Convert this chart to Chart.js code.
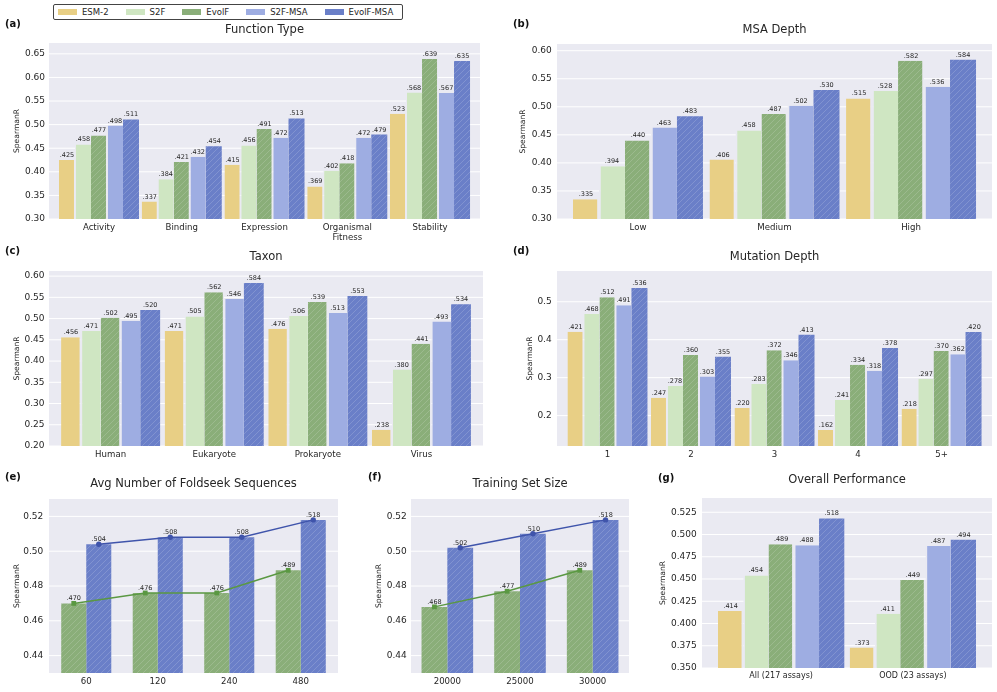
<!DOCTYPE html>
<html>
<head>
<meta charset="utf-8">
<script src="https://cdn.jsdelivr.net/npm/chart.js@4.4.1/dist/chart.umd.min.js"></script>
<style>
  html, body { margin: 0; padding: 0; background: #fff; overflow: hidden; }
  body { width: 997px; height: 692px; position: relative; font-family: "DejaVu Sans", sans-serif; }
  canvas.panel { position: absolute; left: 0; top: 0; }
  #legend {
    position: absolute; left: 53px; top: 4px; width: 350px; height: 16px; z-index: 5;
    box-sizing: border-box; border: 1px solid #444; border-radius: 2px; background: #fff;
    display: flex; align-items: center; padding-left: 4px;
    font-size: 8.5px; color: #262626; white-space: nowrap;
  }
  #legend .sw { display: inline-block; width: 19px; height: 6.5px; margin-right: 5px; }
  #legend .it { display: flex; align-items: center; margin-right: 17px; }
</style>
</head>
<body>
<div id="legend"></div>
<script>
// ---- models ----
const modelNames  = ['ESM-2', 'S2F', 'EvolF', 'S2F-MSA', 'EvolF-MSA'];
const modelColors = ['#e8cf85', '#cfe6c2', '#8aae79', '#9eade2', '#6a7fc8'];

// (a) Function Type
const funcCats      = ['Activity', 'Binding', 'Expression', ['Organismal', 'Fitness'], 'Stability'];
const funcEsm2      = [0.425, 0.337, 0.415, 0.369, 0.523];
const funcS2f       = [0.458, 0.384, 0.456, 0.402, 0.568];
const funcEvolf     = [0.477, 0.421, 0.491, 0.418, 0.639];
const funcS2fMsa    = [0.498, 0.432, 0.472, 0.472, 0.567];
const funcEvolfMsa  = [0.511, 0.454, 0.513, 0.479, 0.635];
const funcTicks     = ['0.30', '0.35', '0.40', '0.45', '0.50', '0.55', '0.60', '0.65'];

// (b) MSA Depth
const msaCats       = ['Low', 'Medium', 'High'];
const msaEsm2       = [0.335, 0.406, 0.515];
const msaS2f        = [0.394, 0.458, 0.528];
const msaEvolf      = [0.440, 0.487, 0.582];
const msaS2fMsa     = [0.463, 0.502, 0.536];
const msaEvolfMsa   = [0.483, 0.530, 0.584];
const msaTicks      = ['0.30', '0.35', '0.40', '0.45', '0.50', '0.55', '0.60'];

// (c) Taxon
const taxCats       = ['Human', 'Eukaryote', 'Prokaryote', 'Virus'];
const taxEsm2       = [0.456, 0.471, 0.476, 0.238];
const taxS2f        = [0.471, 0.505, 0.506, 0.380];
const taxEvolf      = [0.502, 0.562, 0.539, 0.441];
const taxS2fMsa     = [0.495, 0.546, 0.513, 0.493];
const taxEvolfMsa   = [0.520, 0.584, 0.553, 0.534];
const taxTicks      = ['0.20', '0.25', '0.30', '0.35', '0.40', '0.45', '0.50', '0.55', '0.60'];

// (d) Mutation Depth
const mutCats       = ['1', '2', '3', '4', '5+'];
const mutEsm2       = [0.421, 0.247, 0.220, 0.162, 0.218];
const mutS2f        = [0.468, 0.278, 0.283, 0.241, 0.297];
const mutEvolf      = [0.512, 0.360, 0.372, 0.334, 0.370];
const mutS2fMsa     = [0.491, 0.303, 0.346, 0.318, 0.362];
const mutEvolfMsa   = [0.536, 0.355, 0.413, 0.378, 0.420];
const mutTicks      = ['0.2', '0.3', '0.4', '0.5'];

// (e) Avg Number of Foldseek Sequences
const foldCats      = ['60', '120', '240', '480'];
const foldEvolf     = [0.470, 0.476, 0.476, 0.489];
const foldEvolfMsa  = [0.504, 0.508, 0.508, 0.518];

// (f) Training Set Size
const trainCats     = ['20000', '25000', '30000'];
const trainEvolf    = [0.468, 0.477, 0.489];
const trainEvolfMsa = [0.502, 0.510, 0.518];
const smallTicks    = ['0.44', '0.46', '0.48', '0.50', '0.52'];

// (g) Overall Performance
const allCats       = ['All (217 assays)', 'OOD (23 assays)'];
const allEsm2       = [0.414, 0.373];
const allS2f        = [0.454, 0.411];
const allEvolf      = [0.489, 0.449];
const allS2fMsa     = [0.488, 0.487];
const allEvolfMsa   = [0.518, 0.494];
const allTicks      = ['0.350', '0.375', '0.400', '0.425', '0.450', '0.475', '0.500', '0.525'];

// ---- style ----
const W = 997, H = 692;
const FONT = '"DejaVu Sans", sans-serif';
const INK = '#262626';
const PLOT_BG = '#eaeaf2';
const hatched = [false, false, true, false, true];
const gapSides = ['right', 'left', 'right', 'left', null];   // little gaps ESM-2 | S2F EvolF | S2F-MSA EvolF-MSA
const trendColors = { 2: '#5a9842', 4: '#3f54ab' };
const YLAB_SIZE = 7.6;

const ALL5 = [0, 1, 2, 3, 4];
const panels = [
  { tag: '(a)', title: 'Function Type', labels: funcCats, models: ALL5, ticks: funcTicks, min: 0.30, max: 0.673,
    series: [funcEsm2, funcS2f, funcEvolf, funcS2fMsa, funcEvolfMsa],
    box: { l: 57.6, r: 471.4, t: 43, b: 219, pad: 8.6 }, catPct: 0.967, gap: 1.0, yPad: 12.6, ylabX: 17, titleY: 30, tagX: 5, tagY: 24 },
  { tag: '(b)', title: 'MSA Depth', labels: msaCats, models: ALL5, ticks: msaTicks, min: 0.30, max: 0.612,
    series: [msaEsm2, msaS2f, msaEvolf, msaS2fMsa, msaEvolfMsa],
    box: { l: 569.7, r: 979.3, t: 44, b: 219, pad: 12.7 }, catPct: 0.952, gap: 1.8, yPad: 18, ylabX: 523, titleY: 30, tagX: 513, tagY: 24 },
  { tag: '(c)', title: 'Taxon', labels: taxCats, models: ALL5, ticks: taxTicks, min: 0.20, max: 0.612,
    series: [taxEsm2, taxS2f, taxEvolf, taxS2fMsa, taxEvolfMsa],
    box: { l: 58.8, r: 473.2, t: 271, b: 446, pad: 9.8 }, catPct: 0.956, gap: 1.3, yPad: 14.3, ylabX: 17, titleY: 257, tagX: 5, tagY: 251 },
  { tag: '(d)', title: 'Mutation Depth', labels: mutCats, models: ALL5, ticks: mutTicks, min: 0.12, max: 0.581,
    series: [mutEsm2, mutS2f, mutEvolf, mutS2fMsa, mutEvolfMsa],
    box: { l: 565.7, r: 983.3, t: 271, b: 446, pad: 8.7 }, catPct: 0.958, gap: 1.0, yPad: 14, ylabX: 530, titleY: 257, tagX: 513, tagY: 251 },
  { tag: '(e)', title: 'Avg Number of Foldseek Sequences', labels: foldCats, models: [2, 4], ticks: smallTicks, min: 0.43, max: 0.53,
    series: [foldEvolf, foldEvolfMsa], trend: true,
    box: { l: 50.5, r: 336.5, t: 499, b: 673, pad: 1.5 }, catPct: 0.70, gap: 0, yPad: 7.2, ylabX: 17.3, titleY: 484, tagX: 5, tagY: 477 },
  { tag: '(f)', title: 'Training Set Size', labels: trainCats, models: [2, 4], ticks: smallTicks, min: 0.43, max: 0.53,
    series: [trainEvolf, trainEvolfMsa], trend: true,
    box: { l: 411, r: 629, t: 499, b: 673, pad: 0 }, catPct: 0.71, gap: 0, yPad: 4.3, ylabX: 379.3, titleY: 484, tagX: 368, tagY: 477 },
  { tag: '(g)', title: 'Overall Performance', labels: allCats, models: ALL5, ticks: allTicks, min: 0.35, max: 0.541,
    series: [allEsm2, allS2f, allEvolf, allS2fMsa, allEvolfMsa],
    box: { l: 715.3, r: 978.7, t: 498, b: 673, pad: 13.3 }, catPct: 0.959, gap: 1.7, yPad: 18.6, ylabX: 663.3, titleY: 480, tagX: 658, tagY: 478, xFont: 8 }
];

function hatch(ctx, color) {
  const s = 6;
  const c = document.createElement('canvas');
  c.width = c.height = s;
  const g = c.getContext('2d');
  g.fillStyle = color;
  g.fillRect(0, 0, s, s);
  g.strokeStyle = 'rgba(255,255,255,0.2)';
  g.lineWidth = 0.8;
  g.beginPath();
  g.moveTo(0, s); g.lineTo(s, 0);
  g.moveTo(-1, 1); g.lineTo(1, -1);
  g.moveTo(s - 1, s + 1); g.lineTo(s + 1, s - 1);
  g.stroke();
  return ctx.createPattern(c, 'repeat');
}

const valueText = v => '.' + v.toFixed(3).split('.')[1];

// background, grid, title, panel tag, trend lines and value labels
function makeDeco(p) {
  return {
    id: 'deco',
    beforeDraw(chart) {
      const { ctx, chartArea: a, scales: { y } } = chart;
      const x0 = a.left - p.box.pad, x1 = a.right + p.box.pad;
      ctx.save();
      ctx.fillStyle = PLOT_BG;
      ctx.fillRect(x0, a.top, x1 - x0, a.bottom - a.top);
      ctx.strokeStyle = '#fff';
      ctx.lineWidth = 1;
      y.ticks.forEach(t => {
        const py = y.getPixelForValue(t.value);
        ctx.beginPath(); ctx.moveTo(x0, py); ctx.lineTo(x1, py); ctx.stroke();
      });
      ctx.fillStyle = INK;
      ctx.textBaseline = 'middle';
      ctx.textAlign = 'center';
      ctx.font = `11.5px ${FONT}`;
      ctx.fillText(p.title, (x0 + x1) / 2, p.titleY);
      ctx.fillStyle = '#111';
      ctx.textAlign = 'left';
      ctx.font = `bold 10px ${FONT}`;
      ctx.fillText(p.tag, p.tagX, p.tagY);
      ctx.restore();
    },
    afterDatasetsDraw(chart) {
      const { ctx } = chart;
      ctx.save();
      if (p.trend) {
        chart.data.datasets.forEach((ds, i) => {
          const bars = chart.getDatasetMeta(i).data;
          const col = trendColors[ds.model];
          ctx.strokeStyle = col;
          ctx.fillStyle = col;
          ctx.lineWidth = 1.5;
          ctx.beginPath();
          bars.forEach((b, j) => j ? ctx.lineTo(b.x, b.y) : ctx.moveTo(b.x, b.y));
          ctx.stroke();
          bars.forEach(b => {
            ctx.beginPath();
            if (ds.model === 2) ctx.rect(b.x - 2.4, b.y - 2.4, 4.8, 4.8);
            else ctx.arc(b.x, b.y, 2.7, 0, Math.PI * 2);
            ctx.fill();
          });
        });
      }
      ctx.fillStyle = INK;
      ctx.font = `6.5px ${FONT}`;
      ctx.textAlign = 'center';
      ctx.textBaseline = 'alphabetic';
      chart.data.datasets.forEach((ds, i) => {
        chart.getDatasetMeta(i).data.forEach((b, j) => {
          ctx.fillText(valueText(ds.data[j]), b.x, b.y - 3);
        });
      });
      ctx.restore();
    }
  };
}

function makeChart(p) {
  const cv = document.createElement('canvas');
  cv.className = 'panel';
  cv.width = W; cv.height = H;
  cv.style.width = W + 'px'; cv.style.height = H + 'px';
  document.body.appendChild(cv);
  const ctx = cv.getContext('2d');

  const datasets = p.models.map((m, k) => {
    const bw = { left: 0, right: 0, top: 0, bottom: 0 };
    if (p.gap && gapSides[m]) bw[gapSides[m]] = p.gap;
    return {
      label: modelNames[m],
      model: m,
      data: p.series[k],
      backgroundColor: hatched[m] ? hatch(ctx, modelColors[m]) : modelColors[m],
      borderColor: PLOT_BG,
      borderWidth: bw,
      borderSkipped: false,
      categoryPercentage: p.catPct,
      barPercentage: 1
    };
  });

  const yW = p.box.l - (p.ylabX - YLAB_SIZE * 0.6);
  const xH = Math.min(26, H - p.box.b);   // labels are clipped to the x-axis box

  return new Chart(cv, {
    type: 'bar',
    data: { labels: p.labels, datasets },
    plugins: [makeDeco(p)],
    options: {
      responsive: false,
      animation: false,
      events: [],
      layout: { padding: { left: p.box.l - yW, right: W - p.box.r, top: p.box.t, bottom: H - p.box.b - xH } },
      plugins: { legend: { display: false }, tooltip: { enabled: false }, title: { display: false } },
      scales: {
        x: {
          grid: { display: false, drawTicks: false },
          border: { display: false },
          ticks: { color: INK, font: { family: FONT, size: p.xFont || 8.6 }, padding: 3.5, maxRotation: 0, autoSkip: false },
          afterFit: s => { s.height = xH; }
        },
        y: {
          min: p.min,
          max: p.max,
          grid: { display: false, drawTicks: false },
          border: { display: false },
          ticks: { color: INK, font: { family: FONT, size: 9 }, padding: p.yPad, callback: (v, i) => p.ticks[i] },
          afterBuildTicks: s => { s.ticks = p.ticks.map(t => ({ value: parseFloat(t) })); },
          afterFit: s => { s.width = yW; },
          title: { display: true, text: 'SpearmanR', color: INK, font: { family: FONT, size: YLAB_SIZE, lineHeight: 1.2 }, padding: 0 }
        }
      }
    }
  });
}

// legend
const legend = document.getElementById('legend');
legend.innerHTML = modelNames.map((n, i) =>
  `<span class="it"><span class="sw" style="background:${modelColors[i]}"></span>${n}</span>`).join('');

panels.forEach(makeChart);
</script>
</body>
</html>
